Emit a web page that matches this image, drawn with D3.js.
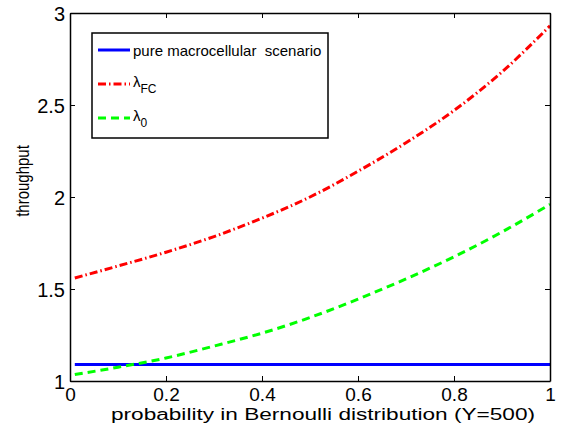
<!DOCTYPE html>
<html>
<head>
<meta charset="utf-8">
<script src="https://cdn.jsdelivr.net/npm/d3@7"></script>
<style>
  body { margin: 0; background: #fff; }
  text { font-family: "Liberation Sans", Arial, sans-serif; fill: #000; }
</style>
</head>
<body>
<div id="chart"></div>
<script>
// probability values along x
const probs = [0.01, 0.1, 0.2, 0.3, 0.4, 0.5, 0.6, 0.7, 0.8, 0.9, 1.0];
// throughput series
const macroValues = [1.09, 1.09, 1.09, 1.09, 1.09, 1.09, 1.09, 1.09, 1.09, 1.09, 1.09];
const lambdaFCValues = [1.56, 1.625, 1.70, 1.785, 1.885, 2.00, 2.14, 2.295, 2.47, 2.68, 2.93];
const lambda0Values = [1.035, 1.075, 1.125, 1.19, 1.26, 1.345, 1.445, 1.555, 1.675, 1.81, 1.96];
const xTicks = [0, 0.2, 0.4, 0.6, 0.8, 1];
const yTicks = [1, 1.5, 2, 2.5, 3];

const width = 564;
const height = 434;
const margin = {top: 13, right: 14, bottom: 53, left: 70};
const tickLen = 5;

const svg = d3.select('#chart').append('svg')
  .attr('width', width)
  .attr('height', height);

const x = d3.scaleLinear().domain([0, 1]).range([margin.left, width - margin.right]);
const y = d3.scaleLinear().domain([1, 3]).range([height - margin.bottom, margin.top]);

// series lines
const line = d3.line()
  .x(d => x(d[0]))
  .y(d => y(d[1]))
  .curve(d3.curveMonotoneX);

const series = [
  {name: 'macro', values: macroValues, color: '#0000ff', dash: null},
  {name: 'fc', values: lambdaFCValues, color: '#ff0000', dash: '8,3,1.5,3'},
  {name: 'zero', values: lambda0Values, color: '#00ff00', dash: '8,5'}
];

const plot = svg.append('g');
series.forEach(s => {
  plot.append('path')
    .datum(probs.map((p, i) => [p, s.values[i]]))
    .attr('fill', 'none')
    .attr('stroke', s.color)
    .attr('stroke-width', 3)
    .attr('stroke-dasharray', s.dash)
    .attr('d', line);
});

// axes (MATLAB style, ticks inside on all four sides)
const axisBottomG = svg.append('g')
  .attr('transform', 'translate(0,' + (height - margin.bottom) + ')')
  .call(d3.axisBottom(x).tickValues(xTicks).tickSizeInner(-tickLen).tickSizeOuter(0)
    .tickFormat(d3.format('~g')));
axisBottomG.selectAll('text').attr('dy', null).attr('y', 20).style('font-size', '19px');

const axisTopG = svg.append('g')
  .attr('transform', 'translate(0,' + margin.top + ')')
  .call(d3.axisTop(x).tickValues(xTicks).tickSizeInner(-tickLen).tickSizeOuter(0).tickFormat(''));

const axisLeftG = svg.append('g')
  .attr('transform', 'translate(' + margin.left + ',0)')
  .call(d3.axisLeft(y).tickValues(yTicks).tickSizeInner(-tickLen).tickSizeOuter(0)
    .tickFormat(d3.format('~g')));
axisLeftG.selectAll('text').attr('x', -5).attr('dy', '0.36em').style('font-size', '20px');

const axisRightG = svg.append('g')
  .attr('transform', 'translate(' + (width - margin.right) + ',0)')
  .call(d3.axisRight(y).tickValues(yTicks).tickSizeInner(-tickLen).tickSizeOuter(0).tickFormat(''));

[axisBottomG, axisTopG, axisLeftG, axisRightG].forEach(a => {
  a.select('.domain').attr('stroke', '#000').attr('stroke-width', 1.5);
  a.selectAll('.tick line').attr('stroke', '#000');
  a.attr('font-family', null);
});

// axis labels
svg.append('text')
  .attr('x', 323)
  .attr('y', 420)
  .attr('text-anchor', 'middle')
  .attr('textLength', 424)
  .attr('lengthAdjust', 'spacingAndGlyphs')
  .style('font-size', '16px')
  .text('probability in Bernoulli distribution (Y=500)');

svg.append('text')
  .attr('transform', 'translate(29,181) rotate(-90) scale(1,1.25)')
  .attr('text-anchor', 'middle')
  .style('font-size', '15px')
  .text('throughput');

// legend
const legend = svg.append('g').attr('transform', 'translate(92,33)');
legend.append('rect')
  .attr('width', 236)
  .attr('height', 105)
  .attr('fill', '#fff')
  .attr('stroke', '#000')
  .attr('stroke-width', 1.5);

const legendRows = [
  {color: '#0000ff', dash: null, main: 'pure macrocellular  scenario', sub: ''},
  {color: '#ff0000', dash: '8,3,1.5,3', main: '\u03bb', sub: 'FC'},
  {color: '#00ff00', dash: '8,5', main: '\u03bb', sub: '0'}
];

legendRows.forEach((r, i) => {
  const ry = 17 + i * 34;
  legend.append('line')
    .attr('x1', 6).attr('x2', 38)
    .attr('y1', ry).attr('y2', ry)
    .attr('stroke', r.color)
    .attr('stroke-width', 3)
    .attr('stroke-dasharray', r.dash);
  const t = legend.append('text')
    .attr('x', 41)
    .attr('y', r.sub ? ry + 3 : ry + 6)
    .style('font-size', '15px')
    .style('white-space', 'pre')
    .text(r.main);
  if (r.sub) {
    t.append('tspan')
      .attr('dy', 6)
      .style('font-size', '12px')
      .text(r.sub);
  }
});
</script>
</body>
</html>
